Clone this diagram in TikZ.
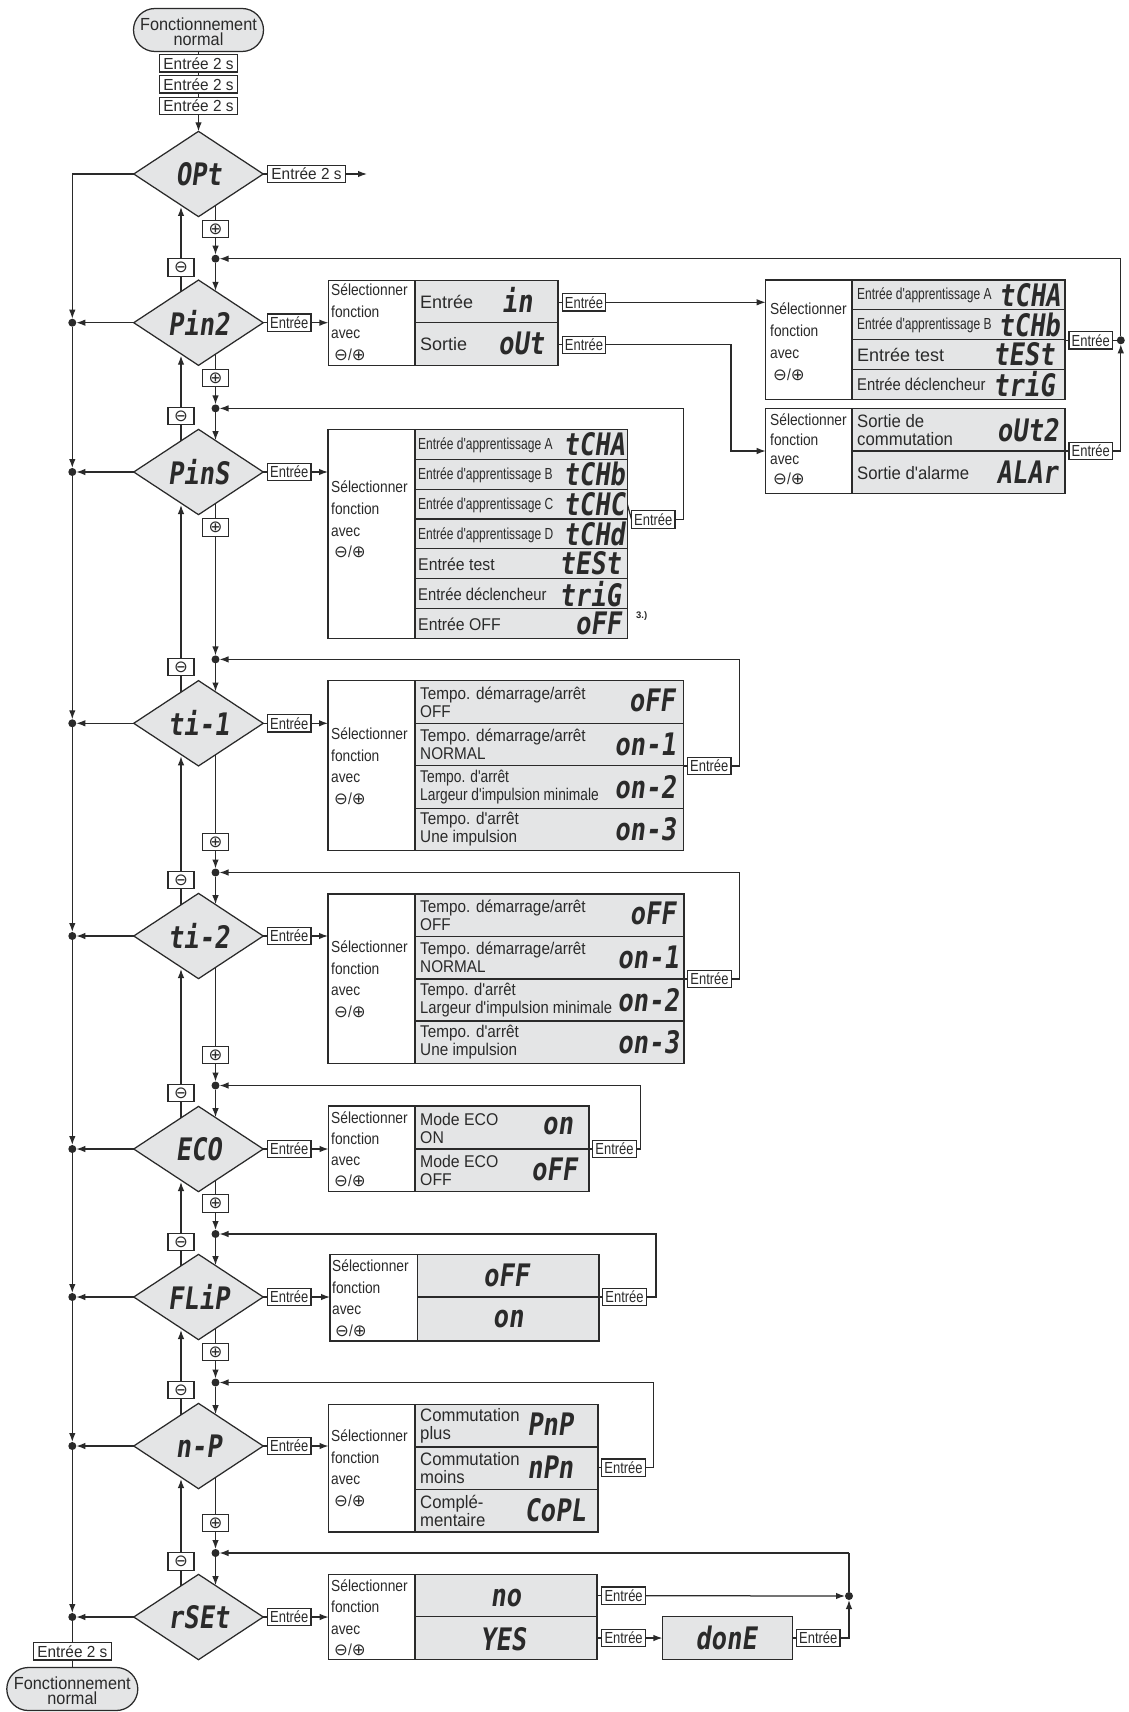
\documentclass[tikz,border=0pt]{standalone}
\usepackage{fontspec}
\setmainfont{Liberation Sans}
\newfontfamily\fnS[FakeStretch=.75]{Liberation Sans}
\newfontfamily\fnR[FakeStretch=.81]{Liberation Sans}
\newfontfamily\fnQ[FakeStretch=.86]{Liberation Sans}
\newfontfamily\fnM[FakeStretch=.87]{Liberation Sans}
\newfontfamily\fnT[FakeStretch=.90]{Liberation Sans}
\newfontfamily\fnL[FakeStretch=.93]{Liberation Sans}
\newfontfamily\fnE[FakeStretch=.96]{Liberation Sans}
\newfontfamily\fnX{Liberation Sans}
\newfontfamily\fnsym{DejaVu Sans}
\newfontfamily\lcdf[FakeStretch=.82,FakeSlant=.14]{DejaVu Sans Mono}
\usetikzlibrary{shapes.geometric,shapes.misc,arrows.meta,backgrounds}
\definecolor{ink}{HTML}{2A2A2A}
\definecolor{panelgray}{HTML}{E4E5E6}
\newcommand\tS{\fnS\fontsize{16}{18}\selectfont}
\newcommand\tM{\fnM\fontsize{17}{18}\selectfont}
\newcommand\tP{\fnT\fontsize{17}{18}\selectfont}
\newcommand\tW{\fnR\fontsize{17}{18}\selectfont}
\newcommand\tL{\fnL\fontsize{17}{18}\selectfont}
\newcommand\tB{\fnL\fontsize{18}{18}\selectfont}
\newcommand\tX{\fnX\fontsize{18}{18}\selectfont}
\newcommand\sm[1]{{\fnsym\fontsize{16.5}{13.5}\selectfont #1}}
\newcounter{tn}
\newcommand\lab[4]{\stepcounter{tn}\node[lab,font=#1] (t\arabic{tn}) at (#2,#3) {#4};}
\newcommand\lcd[3]{\stepcounter{tn}\node[lcdtext] (t\arabic{tn}) at (#1,#2) {#3};}
\newcommand\cell[6]{\pgfmathsetmacro\cw{#4-#2}\pgfmathsetmacro\ch{#5-#3}%
  \pgfmathsetmacro\cx{(#4+#2)/2}\pgfmathsetmacro\cy{(#5+#3)/2}%
  \node[#6,minimum width=\cw pt,minimum height=\ch pt] (#1) at (\cx,\cy) {};}
\newcommand\sel[3]{\stepcounter{tn}\node[lab,font=\fnQ\fontsize{16}{#3}\selectfont] (t\arabic{tn}) at (#1,#2)
  {Sélectionner\\fonction\\avec\\\hspace{3pt}\sm{⊖}/\sm{⊕}};}
\tikzset{
  x=1pt,y=-1pt,
  line/.style={draw=ink,line width=1.25pt},
  arr/.style={line,-{Latex[length=9pt,width=6.5pt]}},
  lab/.style={anchor=west,inner sep=0pt,align=left,text=ink},
  lcdtext/.style={inner sep=0pt,text=ink,font=\lcdf\bfseries\fontsize{31}{31}\selectfont},
  wcell/.style={draw=ink,line width=1.25pt,fill=white,inner sep=0pt,outer sep=0pt},
  gcell/.style={draw=ink,line width=1.25pt,fill=panelgray,inner sep=0pt,outer sep=0pt},
  dia/.style={diamond,aspect=1.518,draw=ink,line width=1.25pt,fill=panelgray,inner sep=0pt,outer sep=0pt,
    minimum width=129.5pt,minimum height=85.3pt,text=ink,font=\lcdf\bfseries\fontsize{31}{31}\selectfont},
  ebox/.style={draw=ink,line width=1.25pt,fill=white,inner sep=0pt,outer sep=0pt,minimum height=17.3pt,
    minimum width=43.5pt,text=ink,font=\fnR\fontsize{16}{16}\selectfont},
  elong/.style={ebox,minimum width=78pt,font=\fnE\fontsize{16}{16}\selectfont},
  pmbox/.style={draw=ink,line width=1.25pt,fill=white,inner sep=0pt,outer sep=0pt,minimum height=17.6pt,
    minimum width=26pt,text=ink,font=\fnsym\fontsize{16.5}{16.5}\selectfont},
  term/.style={rounded rectangle,draw=ink,line width=1.25pt,fill=panelgray,inner sep=0pt,outer sep=0pt,
    minimum height=43pt},
  termtext/.style={inner sep=0pt,text=ink,align=center,font=\fnL\fontsize{17.5}{15}\selectfont},
  dot/.style={circle,fill=ink,draw=none,inner sep=0pt,outer sep=0pt,minimum size=8pt},
}
\begin{document}
\begin{tikzpicture}
\useasboundingbox (0,0) rectangle (1128,1712);
\begin{scope}[on background layer]
  \fill[white] (0,0) rectangle (1128,1712);
\end{scope}
% terminals and entry boxes
\node[term,minimum width=130pt] (start) at (198.5,30) {};
\node[termtext] (startlabel) at (198.5,32) {Fonctionnement\\normal};
\node[elong] (s1) at (198.5,63.4) {Entrée 2 s};
\node[elong] (s2) at (198.5,84.4) {Entrée 2 s};
\node[elong] (s3) at (198.5,105.8) {Entrée 2 s};
\node[elong] (optout) at (306.5,174) {Entrée 2 s};
\coordinate (optend) at (367,174);
\node[term,minimum width=131pt] (finish) at (72.3,1689) {};
\node[termtext] (finishlabel) at (72.3,1691) {Fonctionnement\\normal};
\node[elong] (lastbox) at (72.3,1651.4) {Entrée 2 s};
% diamonds
\node[dia] (d1) at (198.5,174) {OPt};
\foreach \i/\cy/\txt in {2/322.7/Pin2,3/472/PinS,4/723.3/ti-1,5/936/ti-2,6/1149/ECO,7/1297/FLiP,8/1446/n-P,9/1617/rSEt}{
  \node[dia] (d\i) at (198.5,\cy) {\txt};
  \node[ebox] (e\i) at (289.3,\cy) {Entrée};
  \node[dot] (L\i) at (72.3,\cy) {};
}
\foreach \i/\dy/\py/\my in {2/258.7/229/267.5,3/408.4/378/416,4/659.4/527.5/667,5/872.5/842/880,6/1085.5/1055/1093,7/1234/1203.5/1242,8/1382.5/1352/1390,9/1553/1523/1561.5}{
  \node[dot] (dot\i) at (215.5,\dy) {};
  \node[pmbox] (p\i) at (215.5,\py) {⊕};
  \node[pmbox] (m\i) at (181,\my) {⊖};
}
% panel Pin2
\cell{a0}{328.4}{280.3}{415}{365.3}{wcell}
\cell{a1}{415}{280.3}{558}{322.7}{gcell}
\cell{a2}{415}{322.7}{558}{365.3}{gcell}
\sel{331}{322}{21.5}
\lab{\tX}{420}{302}{Entrée}
\lab{\tX}{420}{344.3}{Sortie}
\lcd{517}{300}{in}
\lcd{521}{343}{oUt}
\node[ebox] (ea1) at (584,302.3) {Entrée};
\node[ebox] (ea2) at (584,344.8) {Entrée};
% panel teach (right)
\cell{b0}{765.7}{280}{852}{399.3}{wcell}
\cell{b1}{852}{280}{1065}{309.7}{gcell}
\cell{b2}{852}{309.7}{1065}{339.7}{gcell}
\cell{b3}{852}{339.7}{1065}{369.3}{gcell}
\cell{b4}{852}{369.3}{1065}{399.3}{gcell}
\sel{770}{341.5}{22}
\lab{\tS}{857}{295}{Entrée d'apprentissage A}
\lab{\tS}{857}{325}{Entrée d'apprentissage B}
\lab{\tX}{857}{355}{Entrée test}
\lab{\tM}{857}{384.5}{Entrée déclencheur}
\lcd{1029.5}{295}{tCHA}
\lcd{1029}{325}{tCHb}
\lcd{1023.7}{354.5}{tESt}
\lcd{1023.7}{384}{triG}
\node[ebox] (eb) at (1090.8,340.3) {Entrée};
% panel out (right)
\cell{c0}{765.7}{408.7}{852}{493.7}{wcell}
\cell{c1}{852}{408.7}{1065}{451}{gcell}
\cell{c2}{852}{451}{1065}{493.7}{gcell}
\sel{770}{449}{19.5}
\lab{\tB}{857}{430}{Sortie de\\commutation}
\lab{\tB}{857}{472.7}{Sortie d'alarme}
\lcd{1027.5}{430}{oUt2}
\lcd{1027}{472}{ALAr}
\node[ebox] (ec) at (1090.8,451) {Entrée};
% panel PinS
\cell{f0}{328}{429.3}{415}{638.3}{wcell}
\cell{f1}{415}{429.3}{627.3}{459.3}{gcell}
\cell{f2}{415}{459.3}{627.3}{489.3}{gcell}
\cell{f3}{415}{489.3}{627.3}{519}{gcell}
\cell{f4}{415}{519}{627.3}{548.7}{gcell}
\cell{f5}{415}{548.7}{627.3}{578.7}{gcell}
\cell{f6}{415}{578.7}{627.3}{608.7}{gcell}
\cell{f7}{415}{608.7}{627.3}{638.3}{gcell}
\sel{331}{519.5}{21.7}
\lab{\tS}{418}{445}{Entrée d'apprentissage A}
\lab{\tS}{418}{475}{Entrée d'apprentissage B}
\lab{\tS}{418}{505}{Entrée d'apprentissage C}
\lab{\tS}{418}{535}{Entrée d'apprentissage D}
\lab{\tL}{418}{564}{Entrée test}
\lab{\tM}{418}{594}{Entrée déclencheur}
\lab{\tL}{418}{624}{Entrée OFF}
\lcd{594}{444.3}{tCHA}
\lcd{594}{474.3}{tCHb}
\lcd{594}{504}{tCHC}
\lcd{594}{533.7}{tCHd}
\lcd{590}{563.7}{tESt}
\lcd{590}{593.7}{triG}
\lcd{598}{623}{oFF}
\node[ebox] (ef) at (653.3,519.5) {Entrée};
\stepcounter{tn}\node[lab,font=\bfseries\fontsize{9.5}{10}\selectfont] (t\arabic{tn}) at (636,615.7) {3.)};
% panel ti-1
\cell{g0}{328}{680.7}{415}{850.7}{wcell}
\cell{g1}{415}{680.7}{683.7}{723.3}{gcell}
\cell{g2}{415}{723.3}{683.7}{765.7}{gcell}
\cell{g3}{415}{765.7}{683.7}{808.3}{gcell}
\cell{g4}{415}{808.3}{683.7}{850.7}{gcell}
\sel{331}{766}{21.5}
\lab{\tP}{420}{702}{Tempo. démarrage/arrêt\\OFF}
\lab{\tP}{420}{744.5}{Tempo. démarrage/arrêt\\NORMAL}
\lab{\tW}{420}{787}{Tempo. d'arrêt\\Largeur d'impulsion minimale}
\lab{\tP}{420}{829.5}{Tempo. d'arrêt\\Une impulsion}
\lcd{651.7}{700}{oFF}
\lcd{645}{744}{on-1}
\lcd{645}{787}{on-2}
\lcd{645}{829.5}{on-3}
\node[ebox] (eg) at (709.3,766) {Entrée};
% panel ti-2
\cell{h0}{328}{894}{415}{1063.6}{wcell}
\cell{h1}{415}{894}{684}{936.4}{gcell}
\cell{h2}{415}{936.4}{684}{979}{gcell}
\cell{h3}{415}{979}{684}{1021}{gcell}
\cell{h4}{415}{1021}{684}{1063.6}{gcell}
\sel{331}{979}{21.5}
\lab{\tP}{420}{915}{Tempo. démarrage/arrêt\\OFF}
\lab{\tP}{420}{957.7}{Tempo. démarrage/arrêt\\NORMAL}
\lab{\tM}{420}{1000}{Tempo. d'arrêt\\Largeur d'impulsion minimale}
\lab{\tP}{420}{1042}{Tempo. d'arrêt\\Une impulsion}
\lcd{652.5}{913}{oFF}
\lcd{648}{957}{on-1}
\lcd{648}{1000}{on-2}
\lcd{648}{1042}{on-3}
\node[ebox] (eh) at (709.5,979) {Entrée};
% panel ECO
\cell{i0}{328.5}{1106}{415}{1191.4}{wcell}
\cell{i1}{415}{1106}{589}{1149}{gcell}
\cell{i2}{415}{1149}{589}{1191.4}{gcell}
\sel{331}{1149}{21}
\lab{\tL}{420}{1128}{Mode ECO\\ON}
\lab{\tL}{420}{1170.5}{Mode ECO\\OFF}
\lcd{557.5}{1126}{on}
\lcd{554}{1169}{oFF}
\node[ebox] (ei) at (614.5,1149) {Entrée};
% panel FLIP
\cell{j0}{330}{1254.7}{417.5}{1341}{wcell}
\cell{j1}{417.5}{1254.7}{599}{1297}{gcell}
\cell{j2}{417.5}{1297}{599}{1341}{gcell}
\sel{332}{1298}{21.5}
\lcd{506}{1275}{oFF}
\lcd{508}{1319}{on}
\node[ebox] (ej) at (624.5,1297) {Entrée};
% panel n-P
\cell{k0}{328.5}{1404.3}{415}{1532}{wcell}
\cell{k1}{415}{1404.3}{598}{1446.9}{gcell}
\cell{k2}{415}{1446.9}{598}{1489.5}{gcell}
\cell{k3}{415}{1489.5}{598}{1532}{gcell}
\sel{331}{1468}{21.5}
\lab{\tB}{420}{1426}{Commutation\\plus}
\lab{\tB}{420}{1468}{Commutation\\moins}
\lab{\tB}{420}{1511}{Complé-\\mentaire}
\lcd{550}{1424}{PnP}
\lcd{550}{1467}{nPn}
\lcd{555}{1510}{CoPL}
\node[ebox] (ek) at (623.5,1467.6) {Entrée};
% panel rSEt
\cell{l0}{328.7}{1574.3}{415}{1659.3}{wcell}
\cell{l1}{415}{1574.3}{597}{1616.7}{gcell}
\cell{l2}{415}{1616.7}{597}{1659.3}{gcell}
\sel{331}{1617.7}{21.5}
\lcd{505.6}{1598}{no}
\lcd{503}{1639}{YES}
\node[ebox] (el1) at (623.6,1595.7) {Entrée};
\node[ebox] (el2) at (623.6,1638) {Entrée};
\cell{donebox}{662.4}{1616.7}{792.7}{1659.3}{gcell}
\lcd{726}{1638}{donE}
\node[ebox] (el3) at (818.3,1638) {Entrée};
\node[dot] (dotR) at (849,1596) {};
\node[dot] (dotT) at (1120.8,340.3) {};
% corner points of the return lines
\coordinate (ct) at (1120.8,258.7);
\coordinate (cb) at (1120.8,451);
\coordinate (cf) at (683.3,408.4);
\coordinate (cg) at (739.3,659.4);
\coordinate (ch) at (739.6,872.5);
\coordinate (ci) at (640.5,1085.5);
\coordinate (cj) at (656,1234);
\coordinate (ck) at (653.6,1382.5);
\coordinate (cl) at (849,1553);
\coordinate (co) at (731,451);
\begin{scope}[on background layer]
  \draw[line] (start) -- (s1);
  \draw[line] (s1) -- (s2);
  \draw[line] (s2) -- (s3);
  \draw[arr] (s3) -- (d1.north);
  \draw[line] (d1.east) -- (optout.west);
  \draw[arr] (optout.east) -- (optend);
  \draw[arr] (d1.west) -| (L2);
  \foreach \i/\j in {2/3,3/4,4/5,5/6,6/7,7/8,8/9}{ \draw[arr] (L\i) -- (L\j); }
  \draw[line] (L9) -- (lastbox);
  \draw[line] (lastbox) -- (finish);
  \foreach \i/\j/\cy/\up in {2/1/322.7/174,3/2/472/322.7,4/3/723.3/472,5/4/936/723.3,6/5/1149/936,7/6/1297/1149,8/7/1446/1297,9/8/1617/1446}{
    \pgfmathsetmacro\yin{\cy-31.8}
    \pgfmathsetmacro\yout{\up+33}
    \coordinate (in\i) at (215.5,\yin);
    \coordinate (up\i) at (181,\yout);
    \draw[arr] (d\i.west) -- (L\i);
    \draw[line] (d\i.east) -- (e\i.west);
    \draw[arr] (p\i |- d\j.center) -- (dot\i);
    \draw[arr] (dot\i) -- (in\i);
    \draw[arr] (m\i |- d\i.center) -- (up\i);
  }
  \draw[arr] (e2.east) -- (a0.west |- e2);
  \draw[arr] (e3.east) -- (f0.west |- e3);
  \draw[arr] (e4.east) -- (g0.west |- e4);
  \draw[arr] (e5.east) -- (h0.west |- e5);
  \draw[arr] (e6.east) -- (i0.west |- e6);
  \draw[arr] (e7.east) -- (j0.west |- e7);
  \draw[arr] (e8.east) -- (k0.west |- e8);
  \draw[arr] (e9.east) -- (l0.west |- e9);
  % Pin2 branch
  \draw[line] (a1.east |- ea1) -- (ea1.west);
  \draw[line] (a2.east |- ea2) -- (ea2.west);
  \draw[arr] (ea1.east) -- (b0.west |- ea1);
  \draw[arr] (ea2.east) -| (co) -- (c0.west |- co);
  \draw[line] (b1.east |- eb) -- (eb.west);
  \draw[line] (eb.east) -- (dotT);
  \draw[line] (c1.east |- ec) -- (ec.west);
  \draw[arr] (ec.east) -| (dotT);
  \draw[line] (dotT) -- (ct);
  \draw[arr] (ct) -- (dot2);
  % return loops
  \draw[line] (f3.east) -- (ef.west);
  \draw[arr] (ef.east) -| (cf) -- (dot3);
  \draw[line] (g2.east |- eg) -- (eg.west);
  \draw[arr] (eg.east) -| (cg) -- (dot4);
  \draw[line] (h2.east |- eh) -- (eh.west);
  \draw[arr] (eh.east) -| (ch) -- (dot5);
  \draw[line] (i1.east |- ei) -- (ei.west);
  \draw[arr] (ei.east) -| (ci) -- (dot6);
  \draw[line] (j1.east |- ej) -- (ej.west);
  \draw[arr] (ej.east) -| (cj) -- (dot7);
  \draw[line] (k2.east |- ek) -- (ek.west);
  \draw[arr] (ek.east) -| (ck) -- (dot8);
  % reset
  \draw[line] (l1.east |- el1) -- (el1.west);
  \draw[line] (l2.east |- el2) -- (el2.west);
  \draw[arr] (el1.east) -- (dotR);
  \draw[arr] (el2.east) -- (donebox.west |- el2);
  \draw[line] (donebox.east |- el3) -- (el3.west);
  \draw[arr] (el3.east) -| (dotR);
  \draw[line] (dotR) -- (cl);
  \draw[arr] (cl) -- (dot9);
\end{scope}
\end{tikzpicture}
\end{document}
